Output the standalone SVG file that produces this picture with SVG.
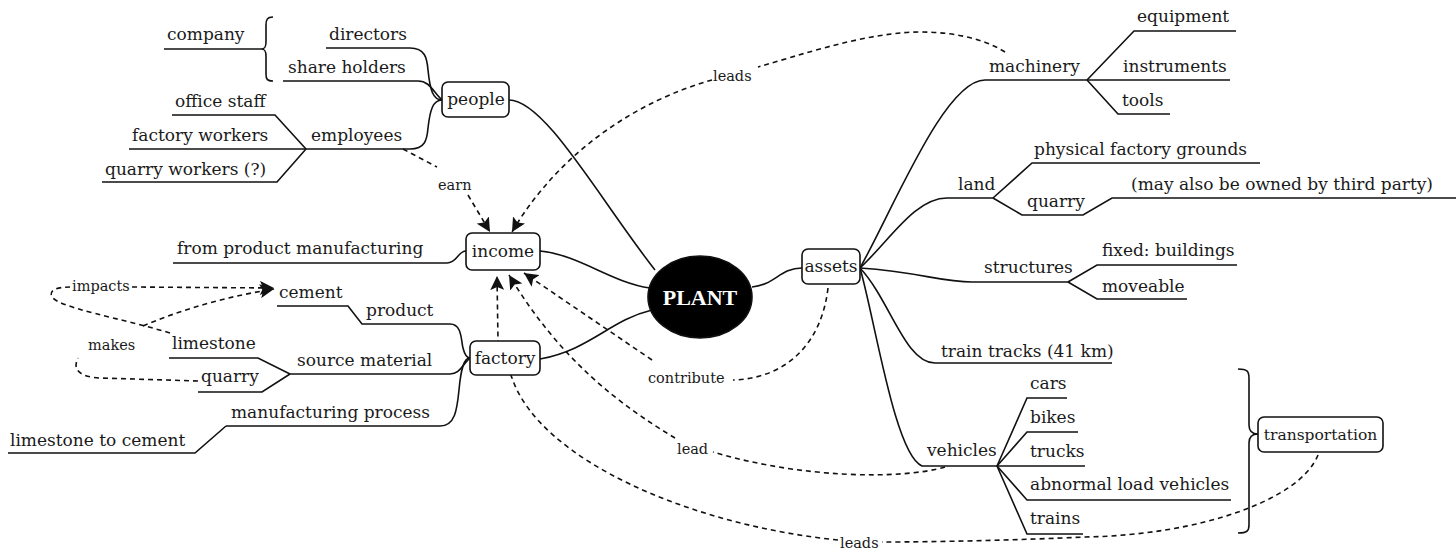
<svg xmlns="http://www.w3.org/2000/svg" width="1456" height="552" viewBox="0 0 1456 552" font-family="DejaVu Serif, serif">
<style>
.t{font-size:17px;fill:#1a1a1a}
.c{text-anchor:middle}
.lbl{font-size:14.5px;fill:#1a1a1a}
.ln{fill:none;stroke:#111;stroke-width:1.6}
.d{fill:none;stroke:#111;stroke-width:1.6;stroke-dasharray:5 4}
.da{fill:none;stroke:#111;stroke-width:1.6;stroke-dasharray:5 4;marker-end:url(#ah)}
.box{fill:#fff;stroke:#111;stroke-width:1.6}
</style>
<defs>
<marker id="ah" markerUnits="userSpaceOnUse" markerWidth="15" markerHeight="14" refX="14" refY="7" orient="auto">
<path d="M0,0 L14,7 L0,14 L3,7 z" fill="#111"/>
</marker>
</defs>
<rect width="1456" height="552" fill="#fff"/>

<g id="connectors">
<path class="ln" d="M509,100 C545,100 600,200 655,270"/>
<path class="ln" d="M540,251 C580,255 610,282 650,288"/>
<path class="ln" d="M540,359 C590,350 610,320 652,310"/>
<path class="ln" d="M752,287 C775,285 780,268 802,268"/>
<path class="ln" d="M326,48 L410,48 C425,48 427,58 428,70 C430,90 433,100 442,100"/>
<path class="ln" d="M283,81 L418,81 C430,81 433,92 442,100"/>
<path class="ln" d="M306,149 L410,149 C425,149 427,140 428,128 C430,110 433,100 442,100"/>
<path class="ln" d="M172,115 L275,115 L306,149"/>
<path class="ln" d="M129,149 L306,149"/>
<path class="ln" d="M102,182 L277,182 L306,149"/>
<path class="ln" d="M164,49 L261,49"/>
<path class="ln" d="M273,17 C267,17 266,20 266,25 L266,42 C266,47 265,49 261,49 C265,49 266,51 266,56 L266,74 C266,79 267,81 273,81"/>
<path class="ln" d="M173,263 L447,263 C457,263 458,251 466,251"/>
<path class="ln" d="M277,306 L348,306 L362,324 L450,324 C462,324 461,340 463,348 C465,356 467,358 470,358"/>
<path class="ln" d="M290,374 L450,374 C460,374 462,365 470,358"/>
<path class="ln" d="M169,358 L258,358 L290,374"/>
<path class="ln" d="M198,392 L262,392 L290,374"/>
<path class="ln" d="M226,426 L440,426 C455,426 457,410 459,390 C461,368 464,358 470,358"/>
<path class="ln" d="M8,453 L195,453 L226,426"/>
<path class="ln" d="M860,268 C895,205 945,80 985,80 L1087,80"/>
<path class="ln" d="M1087,80 L1134,31 L1236,31"/>
<path class="ln" d="M1087,80 L1230,80"/>
<path class="ln" d="M1087,80 L1118,114 L1170,114"/>
<path class="ln" d="M860,268 C890,240 915,198 947,198 L993,198"/>
<path class="ln" d="M993,198 L1032,163 L1260,163"/>
<path class="ln" d="M993,198 L1022,215 L1083,215 L1112,198 L1456,198"/>
<path class="ln" d="M860,268 C920,272 940,282 972,282 L1068,282"/>
<path class="ln" d="M1068,282 L1097,265 L1237,265"/>
<path class="ln" d="M1068,282 L1097,299 L1187,299"/>
<path class="ln" d="M860,268 C890,300 905,363 935,363 L1112,363"/>
<path class="ln" d="M860,268 C875,320 895,455 922,466 L997,466"/>
<path class="ln" d="M997,466 L1027,398 L1067,398"/>
<path class="ln" d="M997,466 L1027,432 L1078,432"/>
<path class="ln" d="M997,466 L1085,466"/>
<path class="ln" d="M997,466 L1027,500 L1231,500"/>
<path class="ln" d="M997,466 L1027,534 L1083,534"/>
<path class="ln" d="M1238,369 C1247,369 1249,371 1249,378 L1249,425 C1249,431 1252,434 1258,434 C1252,434 1249,437 1249,443 L1249,525 C1249,531 1247,533 1238,533"/>
<path class="d" d="M1005,52 C975,33 930,30 900,33 C850,38 800,55 758,67"/>
<path class="da" d="M712,80 C640,100 560,150 512,232"/>
<path class="d" d="M403,149 L437,167"/>
<path class="da" d="M468,195 L490,232"/>
<path class="d" d="M828,288 C822,340 790,378 733,380"/>
<path class="da" d="M652,360 L524,273"/>
<path class="d" d="M945,467 C900,480 800,478 713,452"/>
<path class="da" d="M675,438 C620,405 560,360 509,275"/>
<path class="d" d="M1318,455 C1300,500 1200,535 1085,537 C1020,540 940,542 882,542"/>
<path class="da" d="M838,540 C690,525 540,460 512,378 L498,341 L497,276"/>
<path class="d" d="M170,333 C120,318 60,308 52,297 C48,290 58,287 70,287"/>
<path class="da" d="M132,287 L274,288"/>
<path class="d" d="M198,381 L100,378 C80,377 72,370 78,358"/>
<path class="da" d="M143,326 C185,308 230,296 274,289"/>
</g>

<g id="plant">
<ellipse cx="700" cy="297" rx="52" ry="41" fill="#000" stroke="#111" stroke-width="1.6"/>
<text x="700" y="305" text-anchor="middle" font-family="Liberation Serif, DejaVu Serif, serif" font-size="22" font-weight="bold" fill="#fff">PLANT</text>
</g>
<g id="people">
<rect class="box" x="442" y="82" width="67" height="35" rx="6"/>
<text class="t c" x="476" y="105">people</text>
</g>
<g id="income">
<rect class="box" x="466" y="233" width="74" height="37" rx="6"/>
<text class="t c" x="503" y="257">income</text>
</g>
<g id="factory">
<rect class="box" x="470" y="341" width="70" height="34" rx="6"/>
<text class="t c" x="505" y="364">factory</text>
</g>
<g id="assets">
<rect class="box" x="802" y="249" width="58" height="35" rx="6"/>
<text class="t c" x="831" y="272">assets</text>
</g>
<g id="transportation">
<rect class="box" x="1258" y="417" width="125" height="35" rx="6"/>
<text class="t c" x="1320.5" y="440" style="font-size:15.5px">transportation</text>
</g>

<g id="people-branch">
<text class="t" x="329" y="40">directors</text>
<text class="t" x="288" y="73">share holders</text>
<text class="t" x="167" y="40">company</text>
<text class="t" x="311" y="141">employees</text>
<text class="t" x="175" y="107">office staff</text>
<text class="t" x="132" y="141">factory workers</text>
<text class="t" x="105" y="175">quarry workers (?)</text>
</g>
<g id="income-branch">
<text class="t" x="177" y="254">from product manufacturing</text>
</g>
<g id="factory-branch">
<text class="t" x="279" y="298">cement</text>
<text class="t" x="366" y="316">product</text>
<text class="t" x="172" y="349">limestone</text>
<text class="t" x="297" y="366">source material</text>
<text class="t" x="201" y="382">quarry</text>
<text class="t" x="231" y="418">manufacturing process</text>
<text class="t" x="10" y="446">limestone to cement</text>
</g>
<g id="assets-branch">
<text class="t" x="989" y="72">machinery</text>
<text class="t" x="1137" y="22">equipment</text>
<text class="t" x="1123" y="72">instruments</text>
<text class="t" x="1122" y="106">tools</text>
<text class="t" x="958" y="190">land</text>
<text class="t" x="1034" y="155">physical factory grounds</text>
<text class="t" x="1027" y="207">quarry</text>
<text class="t" x="1131" y="190">(may also be owned by third party)</text>
<text class="t" x="984" y="273">structures</text>
<text class="t" x="1102" y="256">fixed: buildings</text>
<text class="t" x="1102" y="292">moveable</text>
<text class="t" x="941" y="357">train tracks (41 km)</text>
<text class="t" x="927" y="456">vehicles</text>
<text class="t" x="1030" y="389">cars</text>
<text class="t" x="1030" y="423">bikes</text>
<text class="t" x="1030" y="457">trucks</text>
<text class="t" x="1030" y="490">abnormal load vehicles</text>
<text class="t" x="1030" y="524">trains</text>
</g>
<g id="relation-labels">
<text class="lbl" x="713" y="81">leads</text>
<text class="lbl" x="438" y="190">earn</text>
<text class="lbl" x="648" y="383">contribute</text>
<text class="lbl" x="677" y="454">lead</text>
<text class="lbl" x="840" y="548">leads</text>
<text class="lbl" x="72" y="291">impacts</text>
<text class="lbl" x="88" y="350">makes</text>
</g>
</svg>
